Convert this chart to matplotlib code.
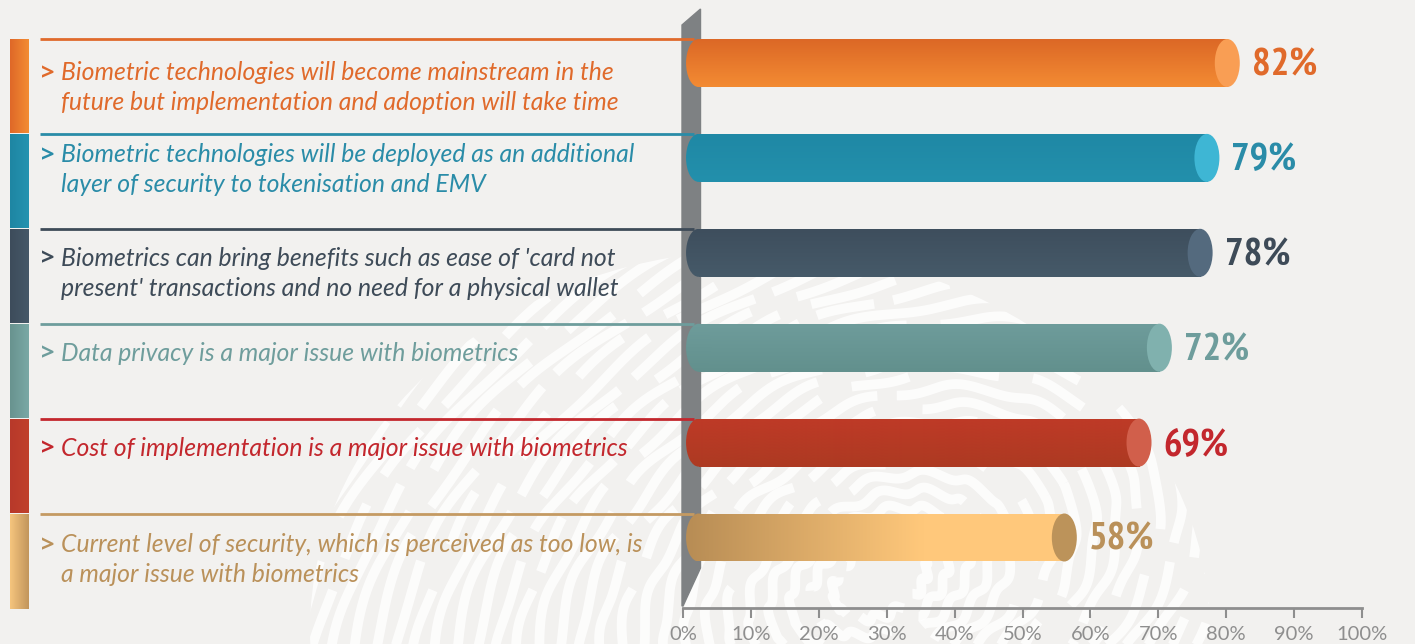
import numpy as np
import matplotlib
matplotlib.use("Agg")
import matplotlib.pyplot as plt
from matplotlib.patches import Rectangle, Ellipse, Polygon
from matplotlib.colors import LinearSegmentedColormap
from matplotlib import font_manager as fm

# ---------------- data ----------------
statements = [
    "Biometric technologies will become mainstream in the\nfuture but implementation and adoption will take time",
    "Biometric technologies will be deployed as an additional\nlayer of security to tokenisation and EMV",
    "Biometrics can bring benefits such as ease of 'card not\npresent' transactions and no need for a physical wallet",
    "Data privacy is a major issue with biometrics",
    "Cost of implementation is a major issue with biometrics",
    "Current level of security, which is perceived as too low, is\na major issue with biometrics",
]
values = [82, 79, 78, 72, 69, 58]
value_labels = ["82%", "79%", "78%", "72%", "69%", "58%"]
xticks = [0, 10, 20, 30, 40, 50, 60, 70, 80, 90, 100]
xtick_labels = ["0%", "10%", "20%", "30%", "40%", "50%", "60%", "70%", "80%", "90%", "100%"]

# ---------------- styles ----------------
text_colors = ["#E06A2B", "#2A8CA8", "#3E4B58", "#6E9D9C", "#C3272D", "#BA915A"]
body_start = ["#DC6826", "#1F88A5", "#3E4E5D", "#6E9C9B", "#BE3A27", "#B88D55"]
body_end = ["#F38B33", "#2390AC", "#465A69", "#62908D", "#AD3A22", "#FFC87B"]
body_dir = ["v", "v", "v", "v", "v", "h"]
cap_colors = ["#F99E54", "#3EB6D4", "#546A7E", "#80B1AE", "#D15F4B", "#BC935A"]
strip_a = ["#DF6828", "#1E86A3", "#3D4C5B", "#68938F", "#B8392A", "#F5C47D"]
strip_b = ["#F38C33", "#2593B0", "#465868", "#7AA8A5", "#C0402C", "#C2965C"]
line_colors = ["#E06A2B", "#2A8CA8", "#3E4B58", "#6E9D9C", "#C3272D", "#C49A62"]
first_baseline_dy = [41, 28, 37, 37, 37, 39]   # px below strip top
LINE_PX = 30

BG = "#F2F1EF"
W, H = 1415, 644
X0, X1 = 683, 1362          # pixel position of 0% and 100%
ROW0, ROW_STEP = 63.0, 94.9  # pixel centre of first row, row spacing
AX_BOTTOM = 608

# condensed bold font for the value labels
def pick_condensed():
    cands = []
    for f in fm.fontManager.ttflist:
        fn = f.fname.lower()
        if ("narrow" in fn or "condensed" in fn or f.stretch in ("condensed", "semi-condensed")) \
                and ("bold" in fn or f.weight in ("bold", 700)) and "oblique" not in fn and "italic" not in fn:
            score = 0 if "narrow" in fn else (1 if "roboto" in fn else 2)
            cands.append((score, f.fname))
    cands.sort()
    return cands[0][1] if cands else None

cond_path = pick_condensed()
narrow = cond_path is not None and "narrow" in cond_path.lower()
label_size = 28 if narrow else 23
if cond_path:
    label_fp = fm.FontProperties(fname=cond_path, size=label_size)
else:
    label_fp = fm.FontProperties(family="DejaVu Sans", weight="bold", size=label_size)

fig = plt.figure(figsize=(W / 100, H / 100), dpi=100, facecolor=BG)

# background / decoration axes in pixel coords
bg = fig.add_axes([0, 0, 1, 1], zorder=-2)
bg.set_xlim(0, W)
bg.set_ylim(H, 0)
bg.axis("off")
bg.set_facecolor(BG)

# fingerprint-like white ridges (decoration)
clip = Ellipse((760, 630), 900, 760, angle=0, transform=bg.transData,
               facecolor="none", edgecolor="none")
bg.add_patch(clip)
fcx, fcy = 880, 580
rot = np.deg2rad(-28)
for k, r in enumerate(np.arange(40, 620, 18)):
    t = np.linspace(0, 2 * np.pi, 700)
    ex = r * 1.25 * np.cos(t)
    ey = r * 0.85 * np.sin(t) + 4 * np.sin(t * 15 + k * 1.3)
    xs = fcx + ex * np.cos(rot) - ey * np.sin(rot)
    ys = fcy + ex * np.sin(rot) + ey * np.cos(rot)
    ln, = bg.plot(xs, ys, color="white", lw=7, alpha=0.8, solid_capstyle="round",
                  dashes=(6 + (k % 5) * 3, 2.0 + (k % 3) * 1.5), zorder=0)
    ln.set_clip_path(clip)

# vertical post
bg.add_patch(Polygon([(682, 25), (700.5, 9), (700.5, 568), (683, 606), (682, 606)],
                     closed=True, color="#7E8183", zorder=1))

# main axes
left = X0 / W
width = (X1 - X0) / W
bottom = 1 - AX_BOTTOM / H
ax = fig.add_axes([left, bottom, width, AX_BOTTOM / H], zorder=1)
ax.patch.set_alpha(0)
ax.set_xlim(0, 100)
y_top = (0 - ROW0) / ROW_STEP
y_bot = (AX_BOTTOM - ROW0) / ROW_STEP
ax.set_ylim(y_bot, y_top)
for s in ["top", "right", "left"]:
    ax.spines[s].set_visible(False)
ax.spines["bottom"].set_color("#8E8E8E")
ax.spines["bottom"].set_linewidth(2)
ax.set_yticks([])
ax.set_xticks(xticks)
ax.set_xticklabels(xtick_labels, fontsize=14.5, color="#8E8E8E",
                   fontfamily=["Lato", "DejaVu Sans"], fontweight="normal")
ax.tick_params(axis="x", direction="out", length=7, width=1.5, color="#8E8E8E", pad=6)

px_per_unit = (X1 - X0) / 100.0
def xd(px):
    return (px - X0) / px_per_unit

bar_h = 48 / ROW_STEP
cap_w = 25 / px_per_unit
start = 0.45

for i, (v, lab) in enumerate(zip(values, value_labels)):
    top = i - bar_h / 2
    x_left = start + cap_w / 2
    x_right = v - cap_w / 2
    cmap = LinearSegmentedColormap.from_list("g%d" % i, [body_start[i], body_end[i]])
    if body_dir[i] == "v":
        grad = np.linspace(0, 1, 64).reshape(-1, 1)
    else:
        grad = np.clip(np.linspace(0, 1.6, 64), 0, 1).reshape(1, -1)
    # body rectangle + rounded left end, both filled with the same gradient
    body = Rectangle((x_left, top), x_right - x_left, bar_h, facecolor="none",
                     edgecolor="none", zorder=2)
    lcap = Ellipse((x_left, i), cap_w, bar_h, facecolor="none", edgecolor="none",
                   zorder=2)
    ax.add_patch(body)
    ax.add_patch(lcap)
    for shape in (body, lcap):
        im = ax.imshow(grad, cmap=cmap,
                       extent=(x_left - cap_w / 2, x_right, i + bar_h / 2, top),
                       aspect="auto", zorder=2.1, interpolation="bicubic", origin="upper")
        im.set_clip_path(shape)
    # right cap
    ax.add_patch(Ellipse((x_right, i), cap_w, bar_h, facecolor=cap_colors[i],
                         edgecolor="none", zorder=2.5))
    # value label
    ax.text(v + 12 / px_per_unit, i + 0.03, lab, ha="left", va="center",
            fontproperties=label_fp, color=text_colors[i], zorder=3)

    # guide line
    ax.plot([xd(40), xd(694)], [top, top], color=line_colors[i], lw=2,
            clip_on=False, zorder=1.5, solid_capstyle="butt")
    # colour strip on the left
    strip_bottom = top + 1.0 if i < len(values) - 1 else (610 - ROW0) / ROW_STEP
    strip = Rectangle((xd(10), top), xd(28.5) - xd(10), strip_bottom - top - 0.006,
                      facecolor=strip_a[i], edgecolor="none", clip_on=False, zorder=1.5)
    ax.add_patch(strip)
    scm = LinearSegmentedColormap.from_list("s%d" % i, [strip_a[i], strip_b[i]])
    sim = ax.imshow(np.linspace(0, 1, 32).reshape(1, -1), cmap=scm,
                    extent=(xd(10), xd(28.5), strip_bottom, top), aspect="auto",
                    zorder=1.6, interpolation="bicubic")
    sim.set_clip_path(strip)

    # statement text: one text per line, baseline aligned
    y_base = top + first_baseline_dy[i] / ROW_STEP
    ax.text(xd(41), y_base, ">", ha="left", va="baseline", fontsize=17,
            fontweight="bold", color=text_colors[i],
            fontfamily=["Open Sans", "DejaVu Sans"], clip_on=False, zorder=3)
    for j, line in enumerate(statements[i].split("\n")):
        ax.text(xd(61), y_base + j * LINE_PX / ROW_STEP, line, ha="left", va="baseline",
                fontsize=17.8, style="italic", color=text_colors[i],
                fontfamily=["Lato", "DejaVu Sans"], clip_on=False, zorder=3)

ax.set_xlim(0, 100)
ax.set_ylim(y_bot, y_top)

fig.savefig("out.png", dpi=100, facecolor=BG)
